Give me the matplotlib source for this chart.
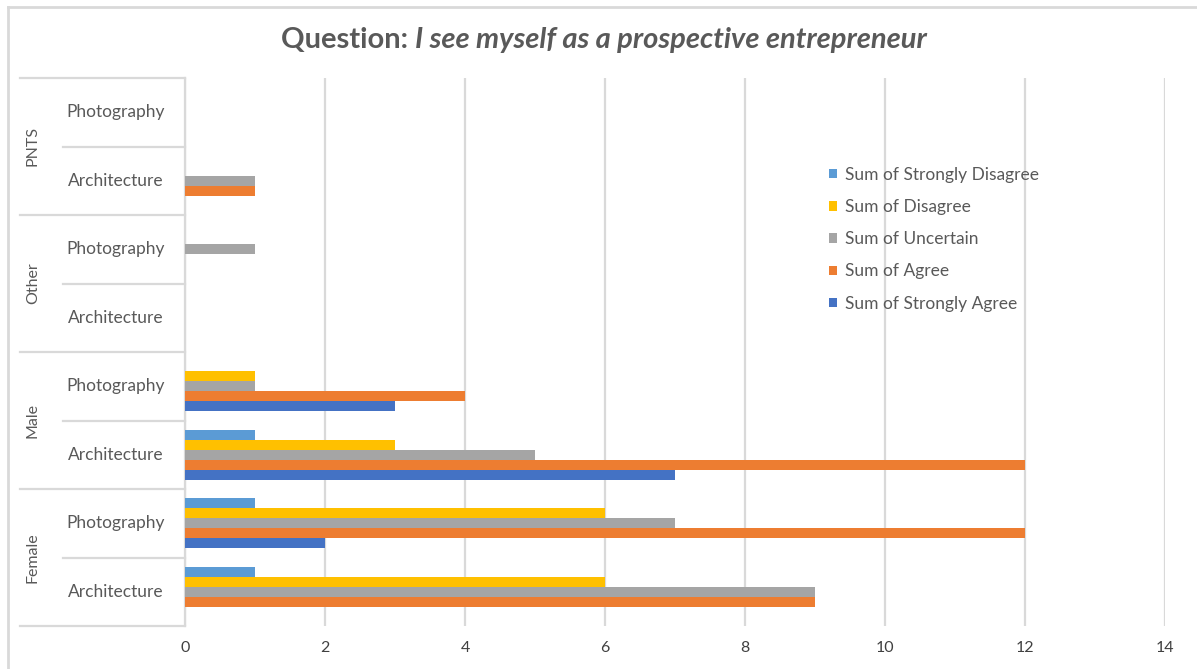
import matplotlib
matplotlib.use("Agg")
import matplotlib.pyplot as plt
from matplotlib.lines import Line2D
from matplotlib.patches import Patch
import numpy as np

# survey responses per group / programme (bottom row first)
groups = ["Female", "Male", "Other", "PNTS"]
programmes = ["Architecture", "Photography"]
strongly_agree = [0, 2, 7, 3, 0, 0, 0, 0]
agree = [9, 12, 12, 4, 0, 0, 1, 0]
uncertain = [9, 7, 5, 1, 0, 1, 1, 0]
disagree = [6, 6, 3, 1, 0, 0, 0, 0]
strongly_disagree = [1, 1, 1, 0, 0, 0, 0, 0]

series = [
    ("Sum of Strongly Agree", strongly_agree, "#4472C4"),
    ("Sum of Agree", agree, "#ED7D31"),
    ("Sum of Uncertain", uncertain, "#A5A5A5"),
    ("Sum of Disagree", disagree, "#FFC000"),
    ("Sum of Strongly Disagree", strongly_disagree, "#5B9BD5"),
]

TXT = "#595959"
GRID = "#D9D9D9"
W, H = 1197, 669
plt.rcParams["font.family"] = ["Lato", "DejaVu Sans"]

fig = plt.figure(figsize=(W / 100, H / 100), dpi=100)
x0, x1, ytop, ybot = 185, 1165, 78, 626
ax = fig.add_axes([x0 / W, 1 - ybot / H, (x1 - x0) / W, (ybot - ytop) / H])

nrows = len(groups) * len(programmes)
rows = np.arange(nrows)
bar_h = 10 / ((ybot - ytop) / nrows)
for k, (name, vals, col) in enumerate(series):
    ax.barh(rows + (k - 2) * bar_h, vals, height=bar_h, color=col, label=name, zorder=3)

ax.set_xlim(0, 14)
ax.set_ylim(-0.5, nrows - 0.5)
ax.set_xticks(range(0, 15, 2))
ax.set_yticks([])
ax.tick_params(axis="x", length=0, pad=11, labelsize=11.5, labelcolor="#404040")
ax.grid(axis="x", color=GRID, linewidth=1.6, zorder=0)
for s in ["top", "right", "bottom"]:
    ax.spines[s].set_visible(False)
ax.spines["left"].set_color(GRID)
ax.spines["left"].set_linewidth(1.6)

# two-level category table on the left
tr = ax.get_yaxis_transform()
left_outer = (20 - x0) / (x1 - x0)
left_inner = (63 - x0) / (x1 - x0)
for b in np.arange(-0.5, nrows, 1.0):
    is_group = int(round(b + 0.5)) % len(programmes) == 0
    xs = left_outer if is_group else left_inner
    ax.add_line(Line2D([xs, 0], [b, b], transform=tr, color=GRID, lw=1.6, clip_on=False))
lab_x = (116 - x0) / (x1 - x0)
grp_x = (33 - x0) / (x1 - x0)
for i in rows:
    ax.text(lab_x, i, programmes[i % len(programmes)], transform=tr, ha="center",
            va="center", fontsize=12.5, color=TXT)
for g, name in enumerate(groups):
    yc = g * len(programmes) + (len(programmes) - 1) / 2
    ax.text(grp_x, yc, name, transform=tr, ha="center", va="center",
            rotation=90, fontsize=11.5, color=TXT)

# legend, top entry first
handles = [Patch(facecolor=c, label=n) for n, _, c in series[::-1]]
ax.legend(handles=handles, loc="upper left", bbox_to_anchor=((829 - x0) / (x1 - x0), 1 - (167 - ytop) / (ybot - ytop)),
          frameon=False, fontsize=12.5, labelcolor=TXT, handlelength=0.45, handleheight=0.45,
          handletextpad=0.45, labelspacing=0.93, borderpad=0, borderaxespad=0)

# chart border (left and top edges)
fig.add_artist(Line2D([8 / W, 8 / W], [0, 1 - 7 / H], color=GRID, lw=2))
fig.add_artist(Line2D([8 / W, 1], [1 - 7 / H, 1 - 7 / H], color=GRID, lw=2))

# title: plain lead-in, italic question
fig.canvas.draw()
r = fig.canvas.get_renderer()
t1 = fig.text(0, 1 - 40 / H, "Question: ", fontsize=21, fontweight="bold", color=TXT, va="center")
t2 = fig.text(0, 1 - 40 / H, "I see myself as a prospective entrepreneur", fontsize=21,
              fontweight="bold", style="italic", color=TXT, va="center")
w1 = t1.get_window_extent(r).width
w2 = t2.get_window_extent(r).width
start = 604 - (w1 + w2) / 2
t1.set_x(start / W)
t2.set_x((start + w1) / W)

fig.savefig("out.png", dpi=100, facecolor="white")
